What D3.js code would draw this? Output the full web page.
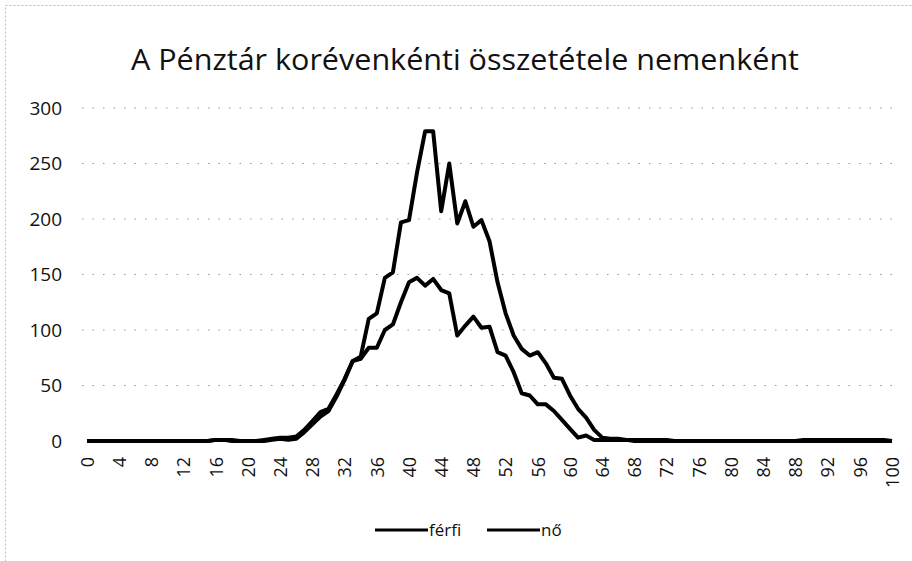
<!DOCTYPE html>
<html>
<head>
<meta charset="utf-8">
<script src="https://cdn.jsdelivr.net/npm/d3@7"></script>
<style>
  body { margin: 0; background: #fff; }
  svg { display: block; }
</style>
</head>
<body>
<svg id="chart" width="912" height="561"></svg>
<script>
// ages 0..100 on the category axis
let ages = d3.range(0, 101);
let tickAges = d3.range(0, 101, 4);
let yTicks = [0, 50, 100, 150, 200, 250, 300];

let ferfi = [
    0, 0, 0, 0, 0, 0, 0, 0, 0, 0,
    0, 0, 0, 0, 0, 0, 1, 1, 0, 0,
    0, 0, 0, 1, 2, 1, 2, 8, 15, 22,
    27, 40, 55, 72, 74, 84, 84, 100, 105, 125,
    143, 147, 140, 146, 136, 133, 95, 104, 112, 102,
    103, 80, 77, 62, 43, 41, 33, 33, 27, 19,
    11, 3, 5, 1, 1, 1, 1, 1, 0, 0,
    0, 0, 0, 0, 0, 0, 0, 0, 0, 0,
    0, 0, 0, 0, 0, 0, 0, 0, 0, 0,
    0, 0, 0, 0, 0, 0, 0, 0, 0, 0,
    0
];

let no = [
    0, 0, 0, 0, 0, 0, 0, 0, 0, 0,
    0, 0, 0, 0, 0, 0, 1, 1, 1, 0,
    0, 0, 1, 2, 3, 3, 4, 10, 18, 26,
    29, 42, 56, 72, 76, 110, 115, 147, 152, 197,
    199, 242, 279, 279, 207, 250, 196, 216, 193, 199,
    180, 143, 115, 95, 83, 77, 80, 70, 57, 56,
    41, 29, 21, 10, 3, 2, 2, 1, 1, 1,
    1, 1, 1, 0, 0, 0, 0, 0, 0, 0,
    0, 0, 0, 0, 0, 0, 0, 0, 0, 1,
    1, 1, 1, 1, 1, 1, 1, 1, 1, 1,
    0
];

let seriesNames = ["férfi", "nő"];
let seriesData = [ferfi, no];

let svg = d3.select("#chart");
let font = "'Open Sans', sans-serif";

/* faint scanned frame */
svg.append("rect")
    .attr("x", 5.5).attr("y", 5.5)
    .attr("width", 930).attr("height", 600)
    .attr("fill", "none")
    .attr("stroke", "#bbb")
    .attr("stroke-width", 1)
    .attr("stroke-dasharray", "2,2");

let x = d3.scalePoint().domain(ages).range([87, 892]);
let y = d3.scaleLinear().domain([0, 300]).range([441, 108]);

/* title */
svg.append("text")
    .attr("x", 465).attr("y", 70)
    .attr("text-anchor", "middle")
    .attr("font-family", font)
    .attr("font-size", 29)
    .attr("textLength", 668)
    .attr("lengthAdjust", "spacingAndGlyphs")
    .attr("fill", "#111")
    .text("A Pénztár korévenkénti összetétele nemenként");

/* gridlines */
svg.append("g")
    .selectAll("line")
    .data(yTicks.filter(d => d > 0))
    .enter()
    .append("line")
    .attr("x1", 82).attr("x2", 892)
    .attr("y1", d => y(d)).attr("y2", d => y(d))
    .attr("stroke", "#999")
    .attr("stroke-width", 1)
    .attr("stroke-dasharray", "1.5,9");

/* y axis labels */
let yAxis = d3.axisLeft(y).tickValues(yTicks).tickSize(0).tickPadding(0);
let gy = svg.append("g").attr("transform", "translate(62,0)").call(yAxis);
gy.select(".domain").remove();
gy.selectAll("text")
    .attr("font-family", font)
    .attr("font-size", 19)
    .attr("fill", "#111");

/* x axis labels, rotated */
let xAxis = d3.axisBottom(x).tickValues(tickAges).tickSize(0).tickPadding(0);
let gx = svg.append("g").attr("transform", "translate(0,457)").call(xAxis);
gx.select(".domain").remove();
gx.selectAll("text")
    .attr("font-family", font)
    .attr("font-size", 18)
    .attr("fill", "#111")
    .attr("text-anchor", "end")
    .attr("dy", "0.35em")
    .attr("transform", "rotate(-90)")
    .attr("x", 0).attr("y", 0);

/* series lines */
let line = d3.line()
    .x((d, i) => x(ages[i]))
    .y(d => y(d));

svg.append("g")
    .selectAll("path")
    .data(seriesData)
    .enter()
    .append("path")
    .attr("d", line)
    .attr("fill", "none")
    .attr("stroke", "#000")
    .attr("stroke-width", 4)
    .attr("stroke-linejoin", "round");

/* legend */
let legend = svg.append("g").attr("transform", "translate(0,530)");
let legendX = [375, 487];
let item = legend.selectAll("g.item")
    .data(seriesNames)
    .enter()
    .append("g")
    .attr("class", "item")
    .attr("transform", (d, i) => "translate(" + legendX[i] + ",0)");
item.append("line")
    .attr("x1", 0).attr("x2", 53)
    .attr("y1", 0).attr("y2", 0)
    .attr("stroke", "#000")
    .attr("stroke-width", 3);
item.append("text")
    .attr("x", 54).attr("y", 0)
    .attr("dy", "0.35em")
    .attr("font-family", font)
    .attr("font-size", 17)
    .attr("fill", "#111")
    .text(d => d);
</script>
</body>
</html>
